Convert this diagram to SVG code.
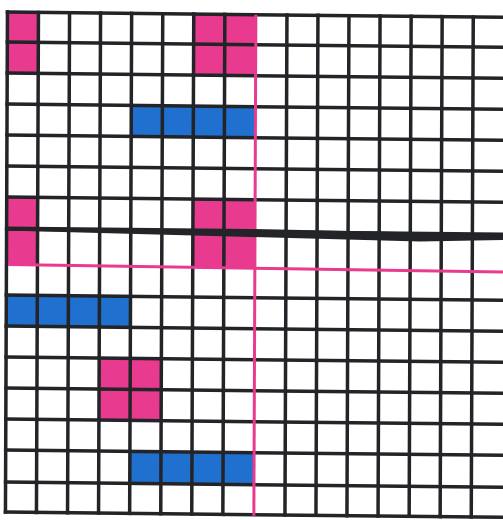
<svg xmlns="http://www.w3.org/2000/svg" width="503" height="520" viewBox="0 0 503 520">
<style>
.pink{fill:#e83a8e}
.blue{fill:#1f70cf}
.grid{fill:none;stroke:#232427;stroke-width:3.5;stroke-linecap:square}
.pl{fill:none;stroke:#e83a8e;stroke-width:3}
</style>
<rect width="503" height="520" fill="#ffffff"/>
<g id="sheet" transform="matrix(1,0.0105,-0.004,1,0,0)">
<g id="cells">
<rect class="pink" x="7.5" y="12" width="31" height="61"/>
<rect class="pink" x="193.8" y="12" width="62.1" height="61"/>
<rect class="pink" x="7.5" y="197" width="31" height="68"/>
<rect class="pink" x="193.8" y="197" width="62.1" height="68"/>
<rect class="pink" x="100.6" y="357" width="62.2" height="62"/>
<rect class="blue" x="131.7" y="104" width="124.2" height="31"/>
<rect class="blue" x="7.5" y="295" width="124.2" height="31"/>
<rect class="blue" x="131.7" y="450" width="124.2" height="32"/>
</g>
<g id="grid-lines">
<path class="grid" d="M7.5 12V512M38.5 12V512M69.6 12V512M100.6 12V512M131.7 12V512M162.8 12V512M193.8 12V512M224.9 12V512M287 12V512M318 12V512M349 12V512M380.1 12V512M411.2 12V512M442.2 12V512M473.3 12V512"/>
<path class="grid" d="M7.5 12H512M7.5 42H512M7.5 73H512M7.5 104H512M7.5 135H512M7.5 166H512M7.5 197H512M7.5 229H512M7.5 295H512M7.5 326H512M7.5 357H512M7.5 388H512M7.5 419H512M7.5 450H512M7.5 482H512M7.5 512H512"/>
<path class="pl" d="M255.9 12V513"/>
</g>
</g>
<g id="marks">
<path class="pl" d="M8 264.5L503 272"/>
<polygon fill="#232427" points="6,226.5 250,229 420,232.5 503,235 503,240 420,241.5 250,237 6,230.5"/>
</g>
</svg>
